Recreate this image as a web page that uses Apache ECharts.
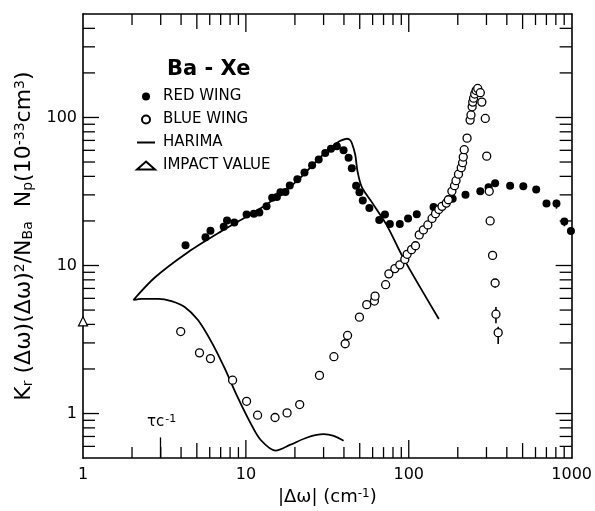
<!DOCTYPE html>
<html>
<head>
<meta charset="utf-8">
<script src="https://cdn.jsdelivr.net/npm/echarts@6/dist/echarts.min.js"></script>
<style>
  html, body { margin: 0; padding: 0; background: #fff; }
  #chart { width: 595px; height: 511px; }
</style>
</head>
<body>
<div id="chart"></div>
<script>
// red wing (filled dots)
var redX = [4.26,5.65,6.06,7.31,7.66,8.49,10.1,11.2,12.1,13.4,14.5,15.5,16.3,17.5,18.6,20.7,22.9,25.5,28.0,30.7,33.3,36.2,39.8,42.7,44.7,47.5,49.8,52.2,57.3,65.9,71.4,76.6,88.1,99.0,112,142,186,223,275,309,339,419,505,606,701,807,902,990];
var redY = [13.7,15.5,17.2,18.3,20.1,19.5,22.1,22.4,22.8,25.1,28.7,29.0,31.3,31.4,34.7,38.3,42.5,47.5,52.0,57.6,61.5,63.8,60.1,53.4,45.4,34.6,31.3,27.5,24.5,20.3,22.1,19.1,19.1,20.8,22.2,24.8,28.2,30.0,31.7,33.8,35.9,34.6,34.3,32.6,26.2,26.2,19.8,17.1];

// blue wing (open circles)
var blueX = [3.98,5.19,6.06,8.29,10.1,11.8,15.1,17.9,21.4,28.3,34.7,40.7,42.1,49.8,55.2,61.5,62.1,72.1,75.5,82.2,88.1,94.6,97.7,104,110,116,123,131,139,146,153,160,170,175,184,191,195,202,210,214,216,219,228,238,241,245,247,250,254,259,265,275,281,295,301,312,316,327,339,343,354];
var blueY = [3.58,2.57,2.35,1.68,1.21,0.975,0.94,1.01,1.15,1.81,2.42,2.96,3.37,4.48,5.44,5.75,6.21,7.42,8.78,9.53,10.1,11.0,11.9,12.8,13.6,16.1,17.4,18.8,20.8,22.4,23.9,25.1,26.4,27.8,31.7,34.6,37.4,41.4,45.8,49.5,54.0,60.6,72.5,96,104,118,127,135,144,152,157,147,127,98.5,54.8,31.7,20.0,11.7,7.62,4.69,3.52];

// Harima curve: upper branch (right to left) then lower branch
var harimaX = [153,92.3,73.1,59.3,51.5,48.4,46.9,44.7,43.5,41.7,38.5,36.2,28.7,20.7,13.6,10.2,7.04,4.41,2.76,2.04,2.29,2.89,3.49,4.21,5.08,6.12,7.38,8.90,10.7,12.3,15.2,18.8,23.8,30.0,34.6,39.8];
var harimaY = [4.35,11.3,18.8,26.8,33.8,43.6,56.2,67.2,70.5,71.8,70.0,67.2,54.0,37.4,26.1,21.5,17.0,12.3,8.30,5.85,5.96,5.96,5.75,5.25,4.28,3.07,2.04,1.29,0.858,0.665,0.562,0.616,0.689,0.725,0.706,0.654];

// impact value
var impactX = [1];
var impactY = [4.2];

// error bars: x, low, high
var redErrX = [807, 902];
var redErrLo = [24.2, 18.4];
var redErrHi = [27.8, 20.8];
var blueErrX = [339, 343, 354];
var blueErrLo = [7.1, 4.07, 2.95];
var blueErrHi = [8.1, 5.25, 3.86];

// axis ticks (frame ends 1, 1000, 0.5, 500 are the box itself)
var xMajor = [10, 100];
var xMid = [5, 50, 500];
var xMinor = [2,3,4,6,7,8,9,20,30,40,60,70,80,90,200,300,400,600,700,800,900];
var yMajor = [1, 10, 100];
var yMinor = [0.6,0.7,0.8,0.9,2,3,4,5,6,7,8,9,20,30,40,50,60,70,80,90,200,300,400];
var xLabels = [1, 10, 100, 1000];

function zip(a, b) {
  return a.map(function (v, i) { return [v, b[i]]; });
}

var FONT = 'DejaVu Sans';
var X_MIN = 1, X_MAX = 1000, Y_MIN = 0.5, Y_MAX = 500;
var X_MID = 10, Y_MID = 10; // anchor inside the plot for tick items

function plainNum(v) { return String(Math.round(v * 1000) / 1000); }

function xLen(v) { return xMajor.indexOf(v) >= 0 ? 18 : (xMid.indexOf(v) >= 0 ? 15 : 11); }
function yLen(v) { return yMajor.indexOf(v) >= 0 ? 16 : 12; }

// one tick series per frame side, placed through the axis scales
function tickSeries(side) {
  var isX = side === 'bottom' || side === 'top';
  var vals = isX ? xMajor.concat(xMid, xMinor) : yMajor.concat(yMinor);
  return {
    name: side + 'Ticks', type: 'custom', xAxisIndex: 0, yAxisIndex: 0, z: 1,
    renderItem: function (params, api) {
      var p, x2, y2, len;
      if (isX) {
        var v = api.value(0);
        p = api.coord([v, side === 'bottom' ? Y_MIN : Y_MAX]);
        len = xLen(v);
        x2 = p[0];
        y2 = side === 'bottom' ? p[1] - len : p[1] + len;
      } else {
        var w = api.value(1);
        p = api.coord([side === 'left' ? X_MIN : X_MAX, w]);
        len = yLen(w);
        x2 = side === 'left' ? p[0] + len : p[0] - len;
        y2 = p[1];
      }
      return {
        type: 'line',
        shape: { x1: p[0], y1: p[1], x2: x2, y2: y2 },
        style: { stroke: '#000', lineWidth: 1.3 }
      };
    },
    data: vals.map(function (v) { return isX ? [v, Y_MID] : [X_MID, v]; })
  };
}

var boxLine = { show: true, onZero: false, lineStyle: { color: '#000', width: 1.6 } };

var chart = echarts.init(document.getElementById('chart'));

var option = {
  backgroundColor: '#fff',
  animation: false,
  textStyle: { fontFamily: FONT, color: '#000' },
  grid: { left: 83, right: 21, top: 14, bottom: 47, show: false },
  title: {
    text: 'Ba - Xe', left: 162, top: 54,
    textStyle: { fontFamily: FONT, fontSize: 21, fontWeight: 'bold', color: '#000' }
  },
  legend: {
    orient: 'vertical', left: 131, top: 84,
    itemWidth: 18, itemHeight: 8, itemGap: 8,
    selectedMode: false,
    textStyle: { fontFamily: FONT, fontSize: 15, color: '#000', lineHeight: 14, padding: [0, 0, 0, 3] },
    data: [
      'RED WING',
      'BLUE WING',
      { name: 'HARIMA', itemStyle: { color: 'rgba(0,0,0,0)', borderWidth: 0, opacity: 0 } },
      'IMPACT VALUE'
    ]
  },
  graphic: [{
    type: 'text', left: 147, top: 414,
    style: {
      text: 'τc{s|-1}',
      font: '15px "DejaVu Sans"', fill: '#000',
      rich: { s: { fontSize: 11, verticalAlign: 'top', fontFamily: FONT, padding: [0, 0, 6, 1] } }
    }
  }],
  xAxis: [
    {
      type: 'log', logBase: 10, position: 'bottom',
      min: X_MIN, max: X_MAX,
      axisLine: boxLine,
      axisTick: { show: false },
      axisLabel: { show: true, margin: 9, fontFamily: FONT, fontSize: 16, color: '#000',
        formatter: function (v) { return xLabels.indexOf(Math.round(v)) >= 0 ? plainNum(v) : ''; } },
      splitLine: { show: false },
      name: '|Δω| (cm{s|-1})',
      nameLocation: 'middle', nameGap: 24,
      nameTextStyle: { fontFamily: FONT, fontSize: 18, color: '#000',
        rich: { s: { fontSize: 12, verticalAlign: 'top', fontFamily: FONT } } }
    },
    {
      type: 'log', logBase: 10, position: 'top', min: X_MIN, max: X_MAX,
      axisLine: boxLine, axisTick: { show: false }, axisLabel: { show: false }, splitLine: { show: false }
    }
  ],
  yAxis: [
    {
      type: 'log', logBase: 10, position: 'left',
      min: Y_MIN, max: Y_MAX,
      axisLine: boxLine,
      axisTick: { show: false },
      axisLabel: { show: true, margin: 6, fontFamily: FONT, fontSize: 16, color: '#000',
        formatter: function (v) { return yMajor.indexOf(Math.round(v * 1000) / 1000) >= 0 ? plainNum(v) : ''; } },
      splitLine: { show: false },
      name: 'K{b|r} (Δω)(Δω){t|2}/N{b|Ba}  N{b|p}(10{t|-33}cm{t|3})',
      nameLocation: 'middle', nameGap: 37, nameRotate: 90,
      nameTextStyle: { fontFamily: FONT, fontSize: 22, color: '#000',
        rich: {
          b: { fontSize: 14, verticalAlign: 'bottom', fontFamily: FONT },
          t: { fontSize: 14, verticalAlign: 'top', fontFamily: FONT }
        } }
    },
    {
      type: 'log', logBase: 10, position: 'right', min: Y_MIN, max: Y_MAX,
      axisLine: boxLine, axisTick: { show: false }, axisLabel: { show: false }, splitLine: { show: false }
    }
  ],
  series: [
    tickSeries('bottom'),
    tickSeries('top'),
    tickSeries('left'),
    tickSeries('right'),
    {
      name: 'RED WING', type: 'scatter', xAxisIndex: 0, yAxisIndex: 0,
      symbol: 'circle', symbolSize: 8,
      itemStyle: { color: '#000', opacity: 1 },
      data: zip(redX, redY),
      markLine: {
        silent: true, symbol: 'none', label: { show: false },
        lineStyle: { color: '#000', width: 1.3, type: 'solid' },
        data: [[{ coord: [3, 0.5] }, { coord: [3, 0.69] }]]
      }
    },
    {
      name: 'BLUE WING', type: 'scatter', xAxisIndex: 0, yAxisIndex: 0,
      symbol: 'circle', symbolSize: 8,
      itemStyle: { color: '#fff', borderColor: '#000', borderWidth: 1.3, opacity: 1 },
      data: zip(blueX, blueY),
      z: 3
    },
    {
      name: 'HARIMA', type: 'line', xAxisIndex: 0, yAxisIndex: 0,
      showSymbol: false, symbol: 'none', smooth: 0.3,
      lineStyle: { color: '#000', width: 1.8 },
      itemStyle: { color: '#000' },
      data: zip(harimaX, harimaY),
      z: 1
    },
    {
      name: 'IMPACT VALUE', type: 'scatter', xAxisIndex: 0, yAxisIndex: 0,
      symbol: 'triangle', symbolSize: 9, symbolKeepAspect: true, clip: false,
      itemStyle: { color: '#fff', borderColor: '#000', borderWidth: 1.2, opacity: 1 },
      data: zip(impactX, impactY)
    },
    {
      name: 'errors', type: 'custom', xAxisIndex: 0, yAxisIndex: 0, z: 1,
      renderItem: function (params, api) {
        var a = api.coord([api.value(0), api.value(1)]);
        var b = api.coord([api.value(0), api.value(2)]);
        return {
          type: 'line',
          shape: { x1: a[0], y1: a[1], x2: b[0], y2: b[1] },
          style: { stroke: '#000', lineWidth: 1.6 }
        };
      },
      data: redErrX.map(function (x, i) { return [x, redErrLo[i], redErrHi[i]]; })
        .concat(blueErrX.map(function (x, i) { return [x, blueErrLo[i], blueErrHi[i]]; }))
    }
  ]
};

chart.setOption(option);
</script>
</body>
</html>
